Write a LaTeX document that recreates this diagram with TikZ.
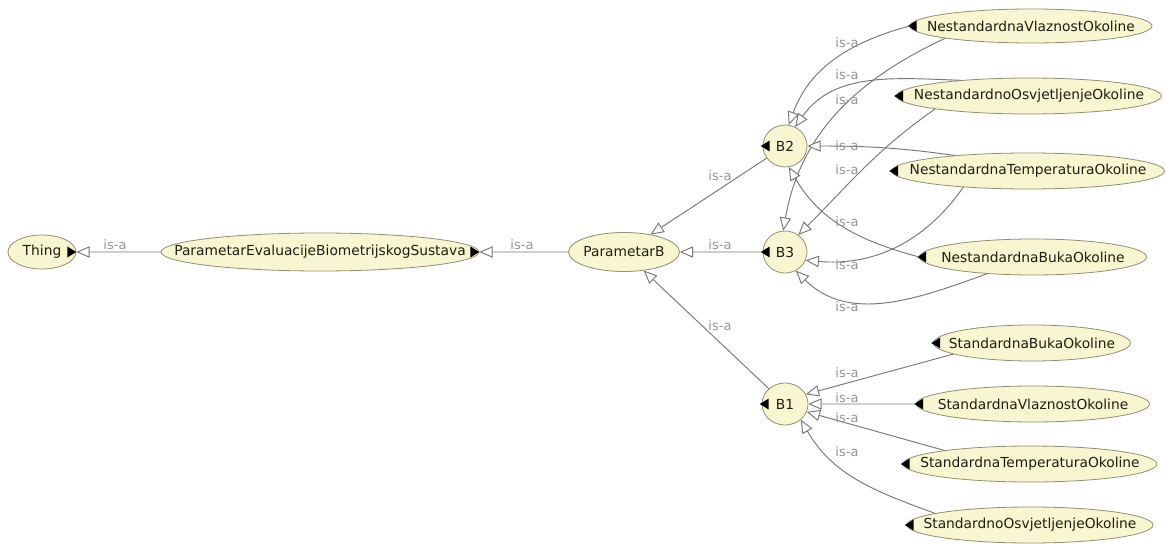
\documentclass[tikz,border=0pt]{standalone}
\usepackage{fontspec}
\setmainfont{DejaVu Sans}
\usepackage{tikz}
\usetikzlibrary{shapes.geometric,arrows.meta}
\definecolor{classFill}{RGB}{248,246,208}
\definecolor{classLine}{RGB}{145,143,115}
\definecolor{edgeGray}{RGB}{118,118,118}
\definecolor{labelGray}{RGB}{150,150,150}
\definecolor{classText}{RGB}{30,30,20}

\begin{document}
\begin{tikzpicture}[x=1pt, y=1pt, scale=0.75, transform shape]
    % Styles
    \tikzstyle{class} = [ellipse, draw=classLine, fill=classFill, text=classText, line width=0.6pt, inner xsep=-40pt, inner ysep=0pt, font=\fontsize{13.8}{16}\selectfont]
    \tikzstyle{isa} = [draw=edgeGray, line width=0.7pt, -{Triangle[length=10pt, width=8.5pt, fill=white]}]
    \tikzstyle{lbl} = [text=labelGray, inner sep=0pt, font=\fontsize{13}{15}\selectfont]

    % Canvas
    \fill[white] (0,0) rectangle (1166,-545);
    \useasboundingbox (0,0) rectangle (1166,-545);

    % Main row
    \node[class, minimum width=68pt, minimum height=34pt] (Thing) at (42,-252) {Thing\hspace{6pt}};
    \node[class, minimum width=318pt, minimum height=38pt] (PEBS) at (320,-252) {ParametarEvaluacijeBiometrijskogSustava};
    \node[class, minimum width=111pt, minimum height=39pt] (PB) at (624,-252) {ParametarB};

    % B classes
    \node[class, minimum width=44pt, minimum height=42pt] (B2) at (785,-146) {B2};
    \node[class, minimum width=44pt, minimum height=42pt] (B3) at (785,-252) {B3};
    \node[class, minimum width=46pt, minimum height=42pt] (B1) at (785,-404) {B1};

    % Nestandardni uvjeti
    \node[class, minimum width=242pt, minimum height=34pt] (NV) at (1031,-26) {NestandardnaVlaznostOkoline};
    \node[class, minimum width=265pt, minimum height=36pt] (NO) at (1029,-96) {NestandardnoOsvjetljenjeOkoline};
    \node[class, minimum width=273pt, minimum height=36pt] (NT) at (1028,-171) {NestandardnaTemperaturaOkoline};
    \node[class, minimum width=227pt, minimum height=36pt] (NB) at (1033,-257) {NestandardnaBukaOkoline};

    % Standardni uvjeti
    \node[class, minimum width=197pt, minimum height=36pt] (SB) at (1032,-343) {StandardnaBukaOkoline};
    \node[class, minimum width=233pt, minimum height=36pt] (SV) at (1033,-404) {StandardnaVlaznostOkoline};
    \node[class, minimum width=254pt, minimum height=36pt] (ST) at (1030,-464) {StandardnaTemperaturaOkoline};
    \node[class, minimum width=246pt, minimum height=36pt] (SO) at (1030,-525) {StandardnoOsvjetljenjeOkoline};

    % Expand markers
    \foreach \n in {B1,B2,B3,NV,NO,NT,NB,SB,SV,ST,SO}
        \fill[black] (\n.west) ++(-2,0) -- ++(9,5.5) -- ++(0,-11) -- cycle;
    \foreach \n in {Thing,PEBS}
        \fill[black] (\n.east) ++(0,0) -- ++(-9,5.5) -- ++(0,-11) -- cycle;

    % is-a edges
    \draw[isa] (PEBS) -- (Thing);
    \draw[isa] (PB) -- (PEBS);
    \draw[isa] (B3) -- (PB);
    \draw[isa] (B2) -- (PB);
    \draw[isa] (B1) -- (PB);

    \draw[isa] (NV.west) to[out=195, in=70] (B2.80);
    \draw[isa] (NO.167) to[out=178, in=55] (B2.62);
    \draw[isa] (NV.south west) to[out=205, in=80] (B3.95);
    \draw[isa] (NO.south west) to[out=215, in=45] (B3.52);
    \draw[isa] (NT.168) to[out=172, in=0] (B2.east);
    \draw[isa] (NT.194) to[out=235, in=-5] (B3.-22);
    \draw[isa] (NB.west) to[out=165, in=-60] (B2.-80);
    \draw[isa] (NB.200) to[out=200, in=-45] (B3.-60);

    \draw[isa] (SB.188) -- (B1.25);
    \draw[isa] (SV) -- (B1);
    \draw[isa] (ST.171) -- (B1.-20);
    \draw[isa] (SO.173) to[out=160, in=-60] (B1.-45);

    % Labels
    \node[lbl] (l1) at (115,-245) {is-a};
    \node[lbl] (l2) at (522,-245) {is-a};
    \node[lbl] (l3) at (720,-245) {is-a};
    \node[lbl] (l4) at (720,-176) {is-a};
    \node[lbl] (l5) at (720,-326) {is-a};
    \node[lbl] (l6) at (847,-43) {is-a};
    \node[lbl] (l7) at (847,-75) {is-a};
    \node[lbl] (l8) at (847,-100) {is-a};
    \node[lbl] (l9) at (847,-146) {is-a};
    \node[lbl] (l10) at (847,-170) {is-a};
    \node[lbl] (l11) at (847,-222) {is-a};
    \node[lbl] (l12) at (847,-265) {is-a};
    \node[lbl] (l13) at (847,-307) {is-a};
    \node[lbl] (l14) at (847,-373) {is-a};
    \node[lbl] (l15) at (847,-398) {is-a};
    \node[lbl] (l16) at (847,-418) {is-a};
    \node[lbl] (l17) at (847,-452) {is-a};
\end{tikzpicture}
\end{document}
